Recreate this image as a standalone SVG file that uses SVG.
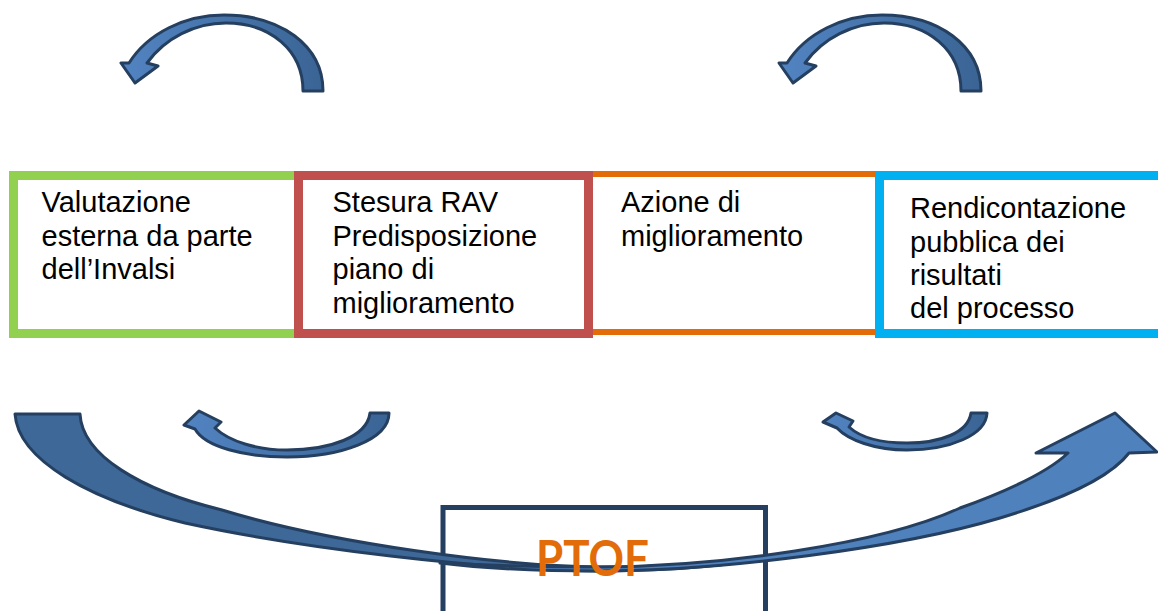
<svg xmlns="http://www.w3.org/2000/svg" width="1158" height="611" viewBox="0 0 1158 611">
  <defs>
    <linearGradient id="gArc" x1="0" y1="0" x2="1" y2="0">
      <stop offset="0" stop-color="#5284C2"/>
      <stop offset="1" stop-color="#3A6494"/>
    </linearGradient>
    <style>
      .lbl { font-family: "Liberation Sans", Arial, sans-serif; font-size: 29px; fill: #000000; }
      .box { fill: #FFFFFF; }
      .arr { stroke: #243F60; stroke-width: 3; stroke-linejoin: round; }
      .ptof { font-family: Lato, "Open Sans", sans-serif; font-weight: bold; font-size: 49px; fill: #E36C0A; }
    </style>
  </defs>
  <rect width="1158" height="611" fill="#FFFFFF"/>

  <g id="node-valutazione">
    <rect class="box" x="13.5" y="175.5" width="285" height="158" stroke="#92D050" stroke-width="9"/>
    <text class="lbl" x="41.5" y="212">Valutazione</text>
    <text class="lbl" x="41.5" y="245.7">esterna da parte</text>
    <text class="lbl" x="41.5" y="279.4">dell’Invalsi</text>
  </g>

  <g id="node-azione">
    <rect class="box" x="590" y="174" width="290" height="158" stroke="#E36C09" stroke-width="6"/>
    <text class="lbl" x="621" y="212">Azione di</text>
    <text class="lbl" x="621" y="245.7">miglioramento</text>
  </g>

  <g id="node-stesura">
    <rect class="box" x="298.5" y="175.5" width="290" height="158" stroke="#C0504D" stroke-width="9"/>
    <text class="lbl" x="332.5" y="212">Stesura RAV</text>
    <text class="lbl" x="332.5" y="245.7">Predisposizione</text>
    <text class="lbl" x="332.5" y="279.4">piano di</text>
    <text class="lbl" x="332.5" y="313.1">miglioramento</text>
  </g>

  <g id="node-rendicontazione">
    <rect class="box" x="879.5" y="175.5" width="300" height="158" stroke="#00B0F0" stroke-width="9"/>
    <text class="lbl" x="910" y="218.3">Rendicontazione</text>
    <text class="lbl" x="910" y="251.5">pubblica dei</text>
    <text class="lbl" x="910" y="284.7">risultati</text>
    <text class="lbl" x="910" y="317.9">del processo</text>
  </g>

  <g id="node-ptof-box">
    <rect x="443" y="507.5" width="322.5" height="140" fill="#FFFFFF" stroke="#243F60" stroke-width="5"/>
  </g>

  <g id="connectors">
    <path id="arc-top-left" class="arr" fill="url(#gArc)" d="M 303,91 C 303,50 270,23 226,23 C 195,23 165,38 147,63 L 158,66 L 135,83 L 121,63 L 129,63 C 148,33 185,15 224,15 C 280,15 323,45 323,91 Z"/>
    <path id="arc-top-right" class="arr" fill="url(#gArc)" transform="translate(658,0)" d="M 303,91 C 303,50 270,23 226,23 C 195,23 165,38 147,63 L 158,66 L 135,83 L 121,63 L 129,63 C 148,33 185,15 224,15 C 280,15 323,45 323,91 Z"/>
    <path id="arc-bottom-left" class="arr" fill="url(#gArc)" d="M 370,413 L 389,413 C 389,440 340,457 287,457 C 245,457 205,447 195,429 L 184,425 L 199,411 L 221,422 L 215,428 C 230,442 258,450 287,450 C 330,450 367,437 370,413 Z"/>
    <path id="arc-bottom-right" class="arr" fill="url(#gArc)" d="M 971,413 L 987,413 C 986,435 950,450 907,450 C 875,450 848,440 837,428 L 823,422 L 836,413 L 853,421 L 849,427 C 860,437 880,443 907,443 C 940,443 968,433 971,413 Z"/>
    <path id="big-left" class="arr" fill="#3D6897" d="M 15,414 L 80,414 C 82,455 140,490 222,510 C 330,543 500,566 600,567 C 680,567 740,562 770,557 C 740,564 680,571 600,571 C 480,570 300,548 185,523 C 90,500 18,460 15,414 Z"/>
    <path id="big-right" class="arr" fill="#4F81BD" d="M 440,563 C 500,566 560,567 600,567 C 720,566 880,545 960,508 C 1010,490 1050,470 1068,453 L 1036,453 L 1115,413 L 1157,452 L 1129,453 C 1110,478 1060,500 1000,518 C 900,548 720,571 600,571 C 540,571 480,568 440,563 Z"/>
  </g>

  <g id="node-ptof-label">
    <text class="ptof" x="536" y="576" textLength="113" lengthAdjust="spacingAndGlyphs">PTOF</text>
  </g>
</svg>
